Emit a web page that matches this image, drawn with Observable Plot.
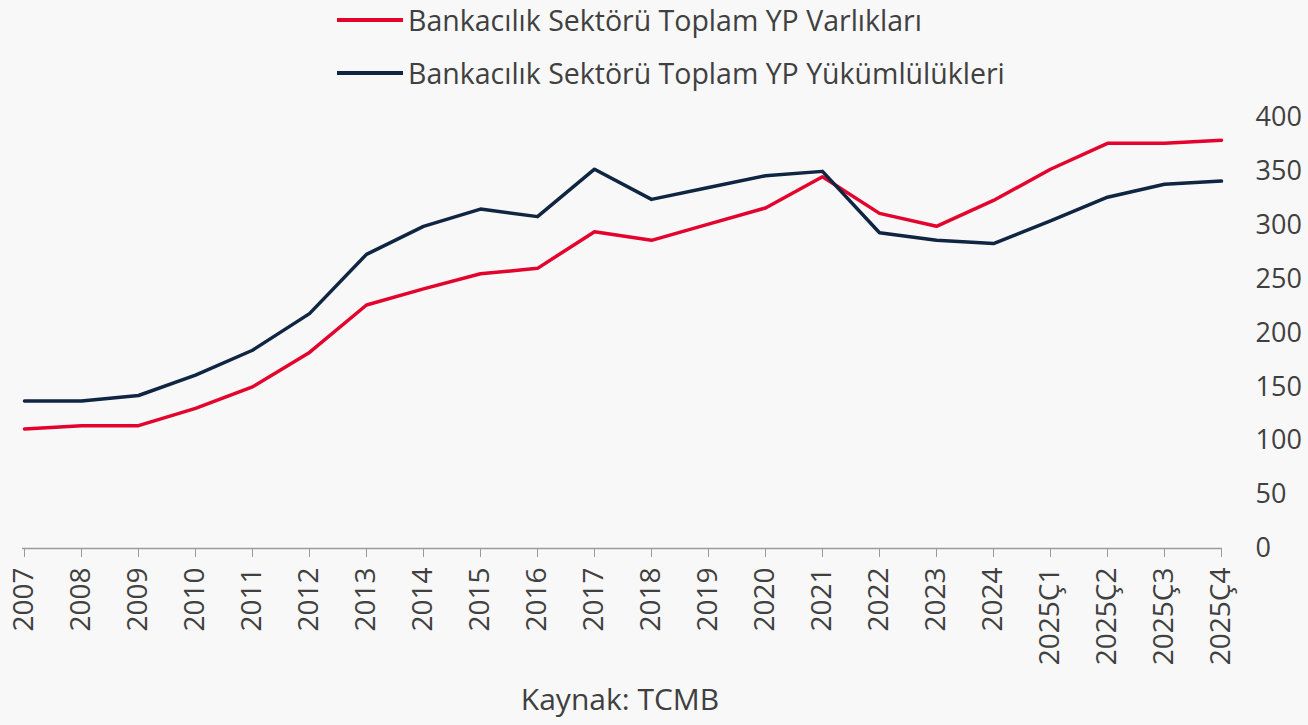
<!DOCTYPE html>
<html>
<head>
<meta charset="utf-8">
<script src="https://cdn.jsdelivr.net/npm/d3@7"></script>
<script src="https://cdn.jsdelivr.net/npm/@observablehq/plot@0.6"></script>
<style>
  html, body { margin: 0; padding: 0; background: #f8f8f8; width: 1308px; height: 725px; overflow: hidden; font-family: "Open Sans", sans-serif; color: #404040; }
  #legend { position: relative; height: 95px; }
  .item { position: absolute; left: 337px; display: flex; align-items: center; }
  .swatch { width: 66px; height: 4px; margin-right: 5px; }
  .label { font-size: 28.5px; white-space: nowrap; }
  #caption { position: absolute; top: 678px; left: 0; width: 1240px; text-align: center; font-size: 30px; }
  #chart { position: absolute; top: 95px; left: 0; }
</style>
</head>
<body>
<div id="legend"></div>
<div id="chart"></div>
<div id="caption">Kaynak: TCMB</div>
<script>
const categories = ["2007","2008","2009","2010","2011","2012","2013","2014","2015","2016","2017","2018","2019","2020","2021","2022","2023","2024","2025Ç1","2025Ç2","2025Ç3","2025Ç4"];
const varliklar = [111,114,114,130,150,182,226,241,255,260,294,286,301,316,345,311,299,323,352,376,376,379];
const yukumlulukler = [137,137,142,161,184,218,273,299,315,308,352,324,335,346,350,293,286,283,304,326,338,341];
const seriesNames = ["Bankacılık Sektörü Toplam YP Varlıkları","Bankacılık Sektörü Toplam YP Yükümlülükleri"];
const seriesColors = ["#e3032d","#0f2542"];
const yTicks = [0,50,100,150,200,250,300,350,400];

const rows = [];
categories.forEach((c,i) => {
  rows.push({cat:c, value:varliklar[i], series:seriesNames[0]});
  rows.push({cat:c, value:yukumlulukler[i], series:seriesNames[1]});
});

const legend = document.getElementById("legend");
seriesNames.forEach((n,i) => {
  const d = document.createElement("div");
  d.className = "item";
  d.style.top = (i === 0 ? 1 : 54) + "px";
  d.innerHTML = `<div class="swatch" style="background:${seriesColors[i]}"></div><div class="label">${n}</div>`;
  legend.appendChild(d);
});

const chart = Plot.plot({
  width: 1308,
  height: 590,
  marginTop: 22,
  marginBottom: 137,
  marginLeft: 22,
  marginRight: 86,
  style: {fontFamily: "Open Sans", fontSize: "27px", background: "transparent", color: "#404040", overflow: "visible"},
  x: {type: "point", domain: categories, padding: 0},
  y: {domain: [0,400]},
  color: {domain: seriesNames, range: seriesColors},
  marks: [
    Plot.ruleY([0], {stroke: "#9a9a9a", strokeWidth: 1.5}),
    Plot.axisX({tickRotate: -90, tickSize: 9, tickPadding: 10, stroke: "#9a9a9a", fill: "#404040", fontSize: 28, label: null}),
    Plot.axisY(yTicks, {anchor: "right", tickSize: 0, tickPadding: 33, fill: "#404040", label: null}),
    Plot.line(rows, {x: "cat", y: "value", z: "series", stroke: "series", strokeWidth: 3.5})
  ]
});
document.getElementById("chart").appendChild(chart);
</script>
</body>
</html>
